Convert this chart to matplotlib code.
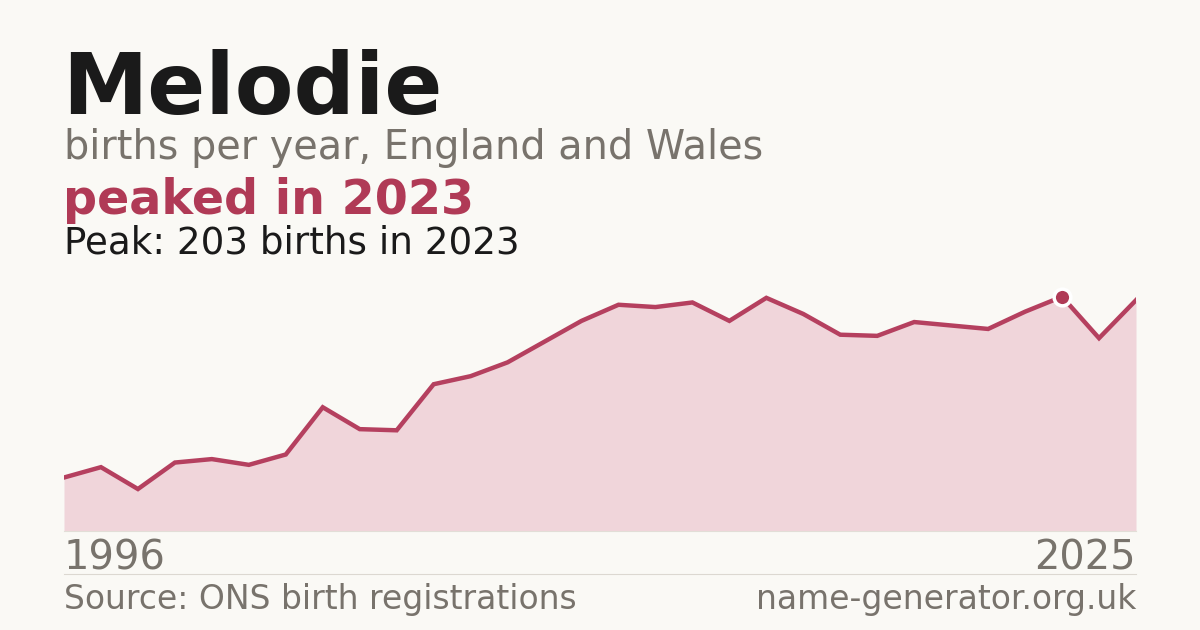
import matplotlib
matplotlib.use("Agg")
import matplotlib.pyplot as plt
from matplotlib.lines import Line2D

years = list(range(1996, 2026))
births = [46, 55, 36, 59, 62, 57, 66, 107, 88, 87,
          127, 134, 146, 164, 182, 196, 194, 198, 182, 202,
          188, 170, 169, 181, 178, 175, 190, 203, 167, 200]
peak_year = 2023
peak_value = 203

bg = '#faf9f5'
accent = '#b03a56'
line_col = '#b5405f'
fill_col = '#f0d5da'
grey = '#78736c'
dark = '#1a1a1a'

W, H = 1200, 630
fig = plt.figure(figsize=(12, 6.3), dpi=100, facecolor=bg)

def fx(px):
    return px / W

def fy(py):
    return 1 - py / H

# plot area: x 64..1136 px, baseline at 530.5 px
ax_bottom = 530.5
ax_top = 280
ax = fig.add_axes([fx(64), fy(ax_bottom), fx(1136 - 64), (ax_bottom - ax_top) / H])
ax.set_facecolor(bg)
ax.fill_between(years, births, 0, color=fill_col, lw=0, zorder=1)
ax.plot(years, births, color=line_col, lw=3.2, solid_joinstyle='miter', zorder=3)
ax.plot([peak_year], [peak_value], 'o', ms=12, color=accent, mec='white', mew=2.5, zorder=4, clip_on=False)
ax.set_xlim(years[0], years[-1])
ax.set_ylim(0, peak_value * (ax_bottom - ax_top) / (ax_bottom - 296.7))
ax.axis('off')

# thin rules
fig.add_artist(Line2D([fx(64), fx(1136)], [fy(530.5), fy(530.5)], color='#e2ded7', lw=0.8, zorder=0))
fig.add_artist(Line2D([fx(64), fx(1136)], [fy(574), fy(574)], color='#dcd8d1', lw=0.8))

# titles
fig.text(fx(62), fy(114), 'Melodie', fontsize=61.7, fontweight='bold', color=dark, va='baseline')
fig.text(fx(64), fy(159), 'births per year, England and Wales', fontsize=28.6, color=grey, va='baseline')
fig.text(fx(63), fy(214), 'peaked in 2023', fontsize=34.3, fontweight='bold', color=accent, va='baseline')
fig.text(fx(64), fy(253), 'Peak: 203 births in 2023', fontsize=26.8, color=dark, va='baseline')

# axis end labels
fig.text(fx(64), fy(569), str(years[0]), fontsize=28.8, color=grey, va='baseline')
fig.text(fx(1136), fy(569), str(years[-1]), fontsize=28.8, color=grey, va='baseline', ha='right')

# footer
fig.text(fx(64), fy(609), 'Source: ONS birth registrations', fontsize=23.8, color=grey, va='baseline')
fig.text(fx(1136), fy(609), 'name-generator.org.uk', fontsize=23.8, color=grey, va='baseline', ha='right')

fig.savefig('out.png', dpi=100, facecolor=bg)
